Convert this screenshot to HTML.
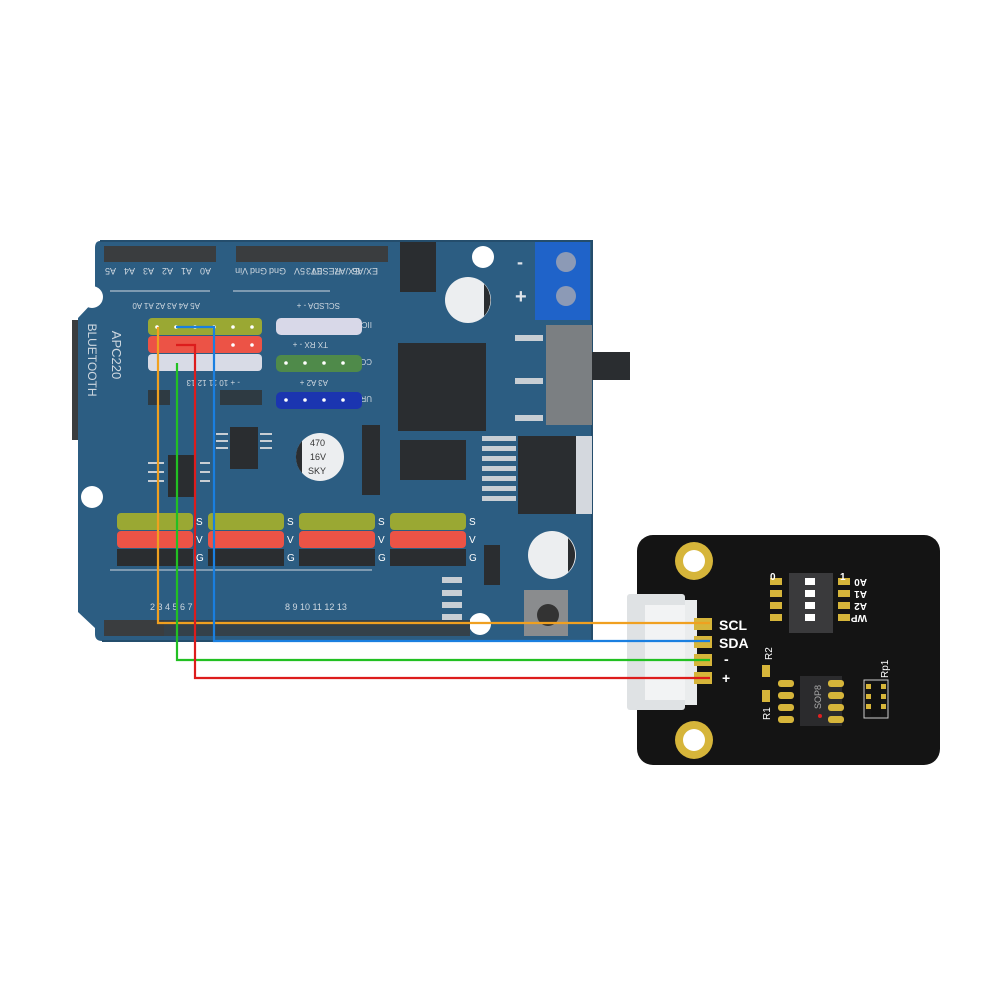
<!DOCTYPE html>
<html><head><meta charset="utf-8"><style>
html,body{margin:0;padding:0;background:#fff;}
svg{display:block;}
text{font-family:"Liberation Sans",sans-serif;}
</style></head><body>
<svg width="1000" height="1000" viewBox="0 0 1000 1000" xmlns="http://www.w3.org/2000/svg">
<!-- Board -->
<path d="M100,241 L592,241 L592,641 L102,641 Q95,641 95,634 L95,628 L78,612 L78,318 L95,300 L95,248 Q95,241 100,241 Z" fill="#2c5d82"/>
<path d="M100,241 L592,241 L592,641 L102,641" fill="none" stroke="#244d6c" stroke-width="2"/>
<circle cx="92" cy="297" r="11" fill="#fff"/><circle cx="92" cy="497" r="11" fill="#fff"/>
<circle cx="483" cy="257" r="11" fill="#fff"/><circle cx="480" cy="624" r="11" fill="#fff"/>
<rect x="104" y="246" width="112" height="16" fill="#3a3d3f"/>
<rect x="236" y="246" width="152" height="16" fill="#3a3d3f"/>
<g fill="#cfd8e0" font-size="9">
<text x="108" y="272" transform="rotate(180 112 270)">A5</text>
<text x="127" y="272" transform="rotate(180 131 270)">A4</text>
<text x="146" y="272" transform="rotate(180 150 270)">A3</text>
<text x="165" y="272" transform="rotate(180 169 270)">A2</text>
<text x="184" y="272" transform="rotate(180 188 270)">A1</text>
<text x="203" y="272" transform="rotate(180 207 270)">A0</text>
<text x="240" y="272" transform="rotate(180 244 270)">Vin</text>
<text x="259" y="272" transform="rotate(180 263 270)">Gnd</text>
<text x="278" y="272" transform="rotate(180 282 270)">Gnd</text>
<text x="297" y="272" transform="rotate(180 301 270)">5V</text>
<text x="314" y="272" transform="rotate(180 318 270)">3V3</text>
<text x="333" y="272" transform="rotate(180 337 270)">RESET</text>
<text x="352" y="272" transform="rotate(180 356 270)">EX/A7</text>
<text x="370" y="272" transform="rotate(180 374 270)">EX/A6</text>
</g>
<line x1="110" y1="291" x2="210" y2="291" stroke="#cfd8e0" stroke-width="1"/>
<line x1="233" y1="291" x2="330" y2="291" stroke="#cfd8e0" stroke-width="1"/>
<g fill="#cfd8e0" font-size="8">
<text x="150" y="309" transform="rotate(180 175 306)">A5 A4 A3 A2 A1 A0</text>
<text x="280" y="309" transform="rotate(180 310 306)">SCLSDA - +</text>
<text x="358" y="328" transform="rotate(180 365 325)">IIC</text>
<text x="282" y="348" transform="rotate(180 305 345)">TX RX - +</text>
<text x="352" y="365" transform="rotate(180 362 362)">COM</text>
<text x="282" y="386" transform="rotate(180 305 383)">A3 A2 +</text>
<text x="352" y="402" transform="rotate(180 362 399)">URF</text>
<text x="160" y="386" transform="rotate(180 200 383)">- +  10  11  12  13</text>
</g>
<text x="92" y="364" font-size="12" fill="#cfd8e0" text-anchor="middle" transform="rotate(90 92 360)">BLUETOOTH</text>
<text x="116" y="359" font-size="13" fill="#cfd8e0" text-anchor="middle" transform="rotate(90 116 355)">APC220</text>
<rect x="72" y="320" width="6" height="120" fill="#3a3d3f"/>
<rect x="148" y="318" width="114" height="17" rx="4" fill="#9aa833"/>
<rect x="148" y="336" width="114" height="17" rx="4" fill="#ec5346"/>
<rect x="148" y="354" width="114" height="17" rx="4" fill="#d8dbe6"/>
<g fill="#fff"><circle cx="157" cy="327" r="1.8"/><circle cx="176" cy="327" r="1.8"/><circle cx="195" cy="327" r="1.8"/><circle cx="214" cy="327" r="1.8"/><circle cx="233" cy="327" r="1.8"/><circle cx="252" cy="327" r="1.8"/>
<circle cx="233" cy="345" r="1.8"/><circle cx="252" cy="345" r="1.8"/></g>
<rect x="148" y="390" width="22" height="15" fill="#2e3a42"/>
<rect x="220" y="390" width="42" height="15" fill="#2e3a42"/>
<rect x="276" y="318" width="86" height="17" rx="5" fill="#d8d8e8"/>
<rect x="276" y="355" width="86" height="17" rx="5" fill="#4f8a4a"/>
<rect x="276" y="392" width="86" height="17" rx="5" fill="#1b35b0"/>
<g fill="#fff"><circle cx="286" cy="363" r="1.8"/><circle cx="305" cy="363" r="1.8"/><circle cx="324" cy="363" r="1.8"/><circle cx="343" cy="363" r="1.8"/>
<circle cx="286" cy="400" r="1.8"/><circle cx="305" cy="400" r="1.8"/><circle cx="324" cy="400" r="1.8"/><circle cx="343" cy="400" r="1.8"/></g>
<rect x="400" y="242" width="36" height="50" fill="#2a2d30"/>
<rect x="398" y="343" width="88" height="88" fill="#2a2d30"/>
<rect x="230" y="427" width="28" height="42" fill="#2a2d30"/>
<rect x="168" y="455" width="28" height="42" fill="#2a2d30"/>
<g stroke="#c8ced4" stroke-width="2"><line x1="216" y1="434" x2="228" y2="434"/><line x1="216" y1="441" x2="228" y2="441"/><line x1="216" y1="448" x2="228" y2="448"/><line x1="260" y1="434" x2="272" y2="434"/><line x1="260" y1="441" x2="272" y2="441"/><line x1="260" y1="448" x2="272" y2="448"/>
<line x1="148" y1="463" x2="164" y2="463"/><line x1="148" y1="472" x2="164" y2="472"/><line x1="148" y1="481" x2="164" y2="481"/><line x1="200" y1="463" x2="210" y2="463"/><line x1="200" y1="472" x2="210" y2="472"/><line x1="200" y1="481" x2="210" y2="481"/></g>
<circle cx="468" cy="300" r="23" fill="#eceef0"/><path d="M484,284 A23,23 0 0 1 484,316 Z" fill="#2a2d30"/>
<circle cx="320" cy="457" r="24" fill="#eceef0"/><path d="M302,441 A24,24 0 0 0 302,473 Z" fill="#2a2d30"/>
<text x="310" y="446" font-size="9" fill="#333">470</text><text x="310" y="460" font-size="9" fill="#333">16V</text><text x="308" y="474" font-size="9" fill="#333">SKY</text>
<circle cx="552" cy="555" r="24" fill="#eceef0"/><path d="M568,538 A24,24 0 0 1 568,572 Z" fill="#2a2d30"/>
<rect x="362" y="425" width="18" height="70" fill="#2a2d30"/>
<rect x="400" y="440" width="66" height="40" fill="#2a2d30"/>
<rect x="535" y="242" width="55" height="78" fill="#1f63c9"/>
<circle cx="566" cy="262" r="10" fill="#8c9ab6"/><circle cx="566" cy="296" r="10" fill="#8c9ab6"/>
<text x="517" y="268" font-size="18" fill="#dfe4ea" font-weight="bold">-</text>
<text x="515" y="303" font-size="20" fill="#dfe4ea" font-weight="bold">+</text>
<rect x="546" y="325" width="46" height="100" fill="#7b7f82"/>
<rect x="592" y="352" width="38" height="28" fill="#2a2d30"/>
<rect x="515" y="335" width="28" height="6" fill="#c8ced4"/><rect x="515" y="378" width="28" height="6" fill="#c8ced4"/><rect x="515" y="415" width="28" height="6" fill="#c8ced4"/>
<rect x="518" y="436" width="58" height="78" fill="#2a2d30"/>
<rect x="576" y="436" width="16" height="78" fill="#d4d8de"/>
<g fill="#c8ced4"><rect x="482" y="436" width="34" height="5"/><rect x="482" y="446" width="34" height="5"/><rect x="482" y="456" width="34" height="5"/><rect x="482" y="466" width="34" height="5"/><rect x="482" y="476" width="34" height="5"/><rect x="482" y="486" width="34" height="5"/><rect x="482" y="496" width="34" height="5"/></g>
<rect x="484" y="545" width="16" height="40" fill="#2a2d30"/>
<rect x="524" y="590" width="44" height="46" fill="#8a8c8e"/><circle cx="548" cy="615" r="11" fill="#333"/>
<g>
<rect x="117" y="513" width="76" height="17" rx="4" fill="#9aa833"/><rect x="117" y="531" width="76" height="17" rx="4" fill="#ec5346"/><rect x="117" y="549" width="76" height="17" fill="#2a2d30"/>
<rect x="208" y="513" width="76" height="17" rx="4" fill="#9aa833"/><rect x="208" y="531" width="76" height="17" rx="4" fill="#ec5346"/><rect x="208" y="549" width="76" height="17" fill="#2a2d30"/>
<rect x="299" y="513" width="76" height="17" rx="4" fill="#9aa833"/><rect x="299" y="531" width="76" height="17" rx="4" fill="#ec5346"/><rect x="299" y="549" width="76" height="17" fill="#2a2d30"/>
<rect x="390" y="513" width="76" height="17" rx="4" fill="#9aa833"/><rect x="390" y="531" width="76" height="17" rx="4" fill="#ec5346"/><rect x="390" y="549" width="76" height="17" fill="#2a2d30"/>
</g>
<g fill="#fff" font-size="10">
<text x="196" y="525">S</text><text x="196" y="543">V</text><text x="196" y="561">G</text>
<text x="287" y="525">S</text><text x="287" y="543">V</text><text x="287" y="561">G</text>
<text x="378" y="525">S</text><text x="378" y="543">V</text><text x="378" y="561">G</text>
<text x="469" y="525">S</text><text x="469" y="543">V</text><text x="469" y="561">G</text>
</g>
<line x1="110" y1="570" x2="372" y2="570" stroke="#cfd8e0"/>
<rect x="104" y="620" width="60" height="16" fill="#3a3d3f"/>
<rect x="164" y="620" width="120" height="16" fill="#34414a"/>
<rect x="280" y="620" width="190" height="16" fill="#34414a"/>
<g fill="#cfd8e0" font-size="9"><text x="150" y="610">2  3  4  5  6  7</text><text x="285" y="610">8  9  10  11  12  13</text></g>
<g fill="#c8ced4"><rect x="442" y="577" width="20" height="6"/><rect x="442" y="590" width="20" height="6"/><rect x="442" y="602" width="20" height="6"/><rect x="442" y="614" width="20" height="6"/></g>
<!-- Module -->
<rect x="637" y="535" width="303" height="230" rx="16" fill="#141414"/>
<circle cx="694" cy="561" r="19" fill="#d6b53a"/><circle cx="694" cy="561" r="11" fill="#fff"/>
<circle cx="694" cy="740" r="19" fill="#d6b53a"/><circle cx="694" cy="740" r="11" fill="#fff"/>
<rect x="627" y="594" width="58" height="116" rx="3" fill="#dfe2e4"/>
<rect x="645" y="605" width="40" height="95" fill="#f2f3f4"/>
<rect x="685" y="600" width="12" height="105" fill="#eaeced"/>
<g fill="#d6b53a"><rect x="694" y="618" width="18" height="12"/><rect x="694" y="636" width="18" height="12"/><rect x="694" y="654" width="18" height="12"/><rect x="694" y="672" width="18" height="12"/></g>
<g fill="#fff" font-weight="bold" font-size="14"><text x="719" y="630">SCL</text><text x="719" y="648">SDA</text><text x="724" y="664">-</text><text x="722" y="683">+</text></g>
<rect x="789" y="573" width="44" height="60" fill="#3a3a3c"/>
<g fill="#d6b53a"><rect x="770" y="578" width="12" height="7"/><rect x="770" y="590" width="12" height="7"/><rect x="770" y="602" width="12" height="7"/><rect x="770" y="614" width="12" height="7"/><rect x="838" y="578" width="12" height="7"/><rect x="838" y="590" width="12" height="7"/><rect x="838" y="602" width="12" height="7"/><rect x="838" y="614" width="12" height="7"/></g>
<g fill="#fff"><rect x="805" y="578" width="10" height="7"/><rect x="805" y="590" width="10" height="7"/><rect x="805" y="602" width="10" height="7"/><rect x="805" y="614" width="10" height="7"/></g>
<g fill="#fff" font-size="10" font-weight="bold"><text x="853" y="585" transform="rotate(180 860 582)">A0</text><text x="853" y="597" transform="rotate(180 860 594)">A1</text><text x="853" y="609" transform="rotate(180 860 606)">A2</text><text x="853" y="621" transform="rotate(180 860 618)">WP</text>
<text x="770" y="580">0</text><text x="840" y="580">1</text></g>
<rect x="800" y="676" width="42" height="50" fill="#2b2b2d"/>
<g fill="#d6b53a"><rect x="778" y="680" width="16" height="7" rx="3"/><rect x="778" y="692" width="16" height="7" rx="3"/><rect x="778" y="704" width="16" height="7" rx="3"/><rect x="778" y="716" width="16" height="7" rx="3"/><rect x="828" y="680" width="16" height="7" rx="3"/><rect x="828" y="692" width="16" height="7" rx="3"/><rect x="828" y="704" width="16" height="7" rx="3"/><rect x="828" y="716" width="16" height="7" rx="3"/></g>
<circle cx="820" cy="716" r="2" fill="#e02020"/>
<text x="806" y="706" font-size="9" fill="#aaa" transform="rotate(-90 815 700)">SOP8</text>
<rect x="762" y="665" width="8" height="12" fill="#d6b53a"/><rect x="762" y="690" width="8" height="12" fill="#d6b53a"/>
<text x="760" y="662" font-size="10" fill="#fff" transform="rotate(-90 765 655)">R2</text>
<text x="760" y="720" font-size="10" fill="#fff" transform="rotate(-90 765 715)">R1</text>
<rect x="864" y="680" width="24" height="38" fill="none" stroke="#ccc"/>
<rect x="871" y="682" width="10" height="34" fill="#111"/>
<g fill="#d6b53a"><rect x="866" y="684" width="5" height="5"/><rect x="866" y="694" width="5" height="5"/><rect x="866" y="704" width="5" height="5"/><rect x="881" y="684" width="5" height="5"/><rect x="881" y="694" width="5" height="5"/><rect x="881" y="704" width="5" height="5"/></g>
<text x="868" y="678" font-size="10" fill="#fff" transform="rotate(-90 878 668)">Rp1</text>
<g fill="none" stroke-width="2.2">
<polyline points="158,327 158,623 710,623" stroke="#f0a020"/>
<polyline points="176,327 214,327 214,641 710,641" stroke="#1a7fe0"/>
<polyline points="177,363 177,660 710,660" stroke="#22c022"/>
<polyline points="176,345 195,345 195,678 710,678" stroke="#dd1c1c"/>
</g>
</svg>
</body></html>
